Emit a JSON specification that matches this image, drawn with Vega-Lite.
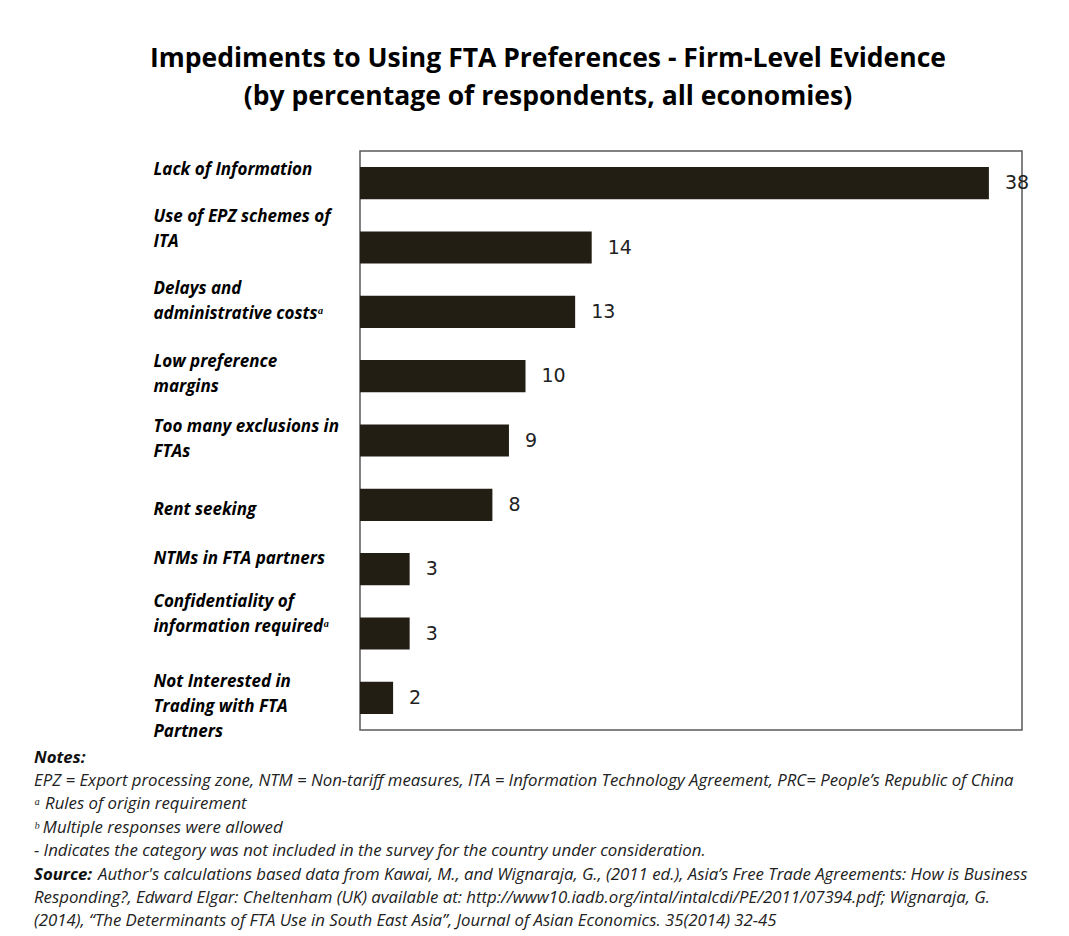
{
  "$schema": "https://vega.github.io/schema/vega-lite/v6.json",
  "padding": {"left": 34, "top": 45, "right": 5, "bottom": 5},
  "background": "white",
  "title": {
    "text": ["Impediments to Using FTA Preferences - Firm-Level Evidence", "(by percentage of respondents, all economies)"],
    "font": "Open Sans",
    "fontSize": 26.5,
    "fontWeight": "bold",
    "lineHeight": 38,
    "color": "#000000",
    "anchor": "middle",
    "offset": 40,
    "dx": 6
  },
  "spacing": 5,
  "vconcat": [
    {
      "width": 662,
      "height": 579,
      "view": {"stroke": "#595959", "strokeWidth": 1.5},
      "data": {
        "values": [
          {"label": "Lack of Information", "value": 38},
          {"label": "Use of EPZ schemes of|ITA", "value": 14},
          {"label": "Delays and|administrative costsᵃ", "value": 13},
          {"label": "Low preference|margins", "value": 10},
          {"label": "Too many exclusions in|FTAs", "value": 9},
          {"label": "Rent seeking", "value": 8},
          {"label": "NTMs in FTA partners", "value": 3},
          {"label": "Confidentiality of|information requiredᵃ", "value": 3},
          {"label": "Not Interested in|Trading with FTA|Partners", "value": 2}
        ]
      },
      "encoding": {
        "y": {
          "field": "label",
          "type": "nominal",
          "sort": ["Lack of Information", "Use of EPZ schemes of|ITA", "Delays and|administrative costsᵃ", "Low preference|margins", "Too many exclusions in|FTAs", "Rent seeking", "NTMs in FTA partners", "Confidentiality of|information requiredᵃ", "Not Interested in|Trading with FTA|Partners"],
          "scale": {"paddingInner": 0.5, "paddingOuter": 0.25},
          "axis": {
            "title": null,
            "domain": false,
            "ticks": false,
            "grid": false,
            "labelAlign": "left",
            "labelBaseline": "middle",
            "labelPadding": 207,
            "labelLimit": 0,
            "labelFont": "Open Sans",
            "labelFontSize": 17,
            "labelFontWeight": "bold",
            "labelFontStyle": "italic",
            "labelColor": "#000000",
            "labelLineHeight": 25,
            "labelExpr": "split(datum.label, '|')",
            "labelOffset": {
              "condition": [
                {"test": "datum.value === 'Lack of Information'", "value": -13},
                {"test": "datum.value === 'Use of EPZ schemes of|ITA'", "value": -31},
                {"test": "datum.value === 'Delays and|administrative costsᵃ'", "value": -23},
                {"test": "datum.value === 'Low preference|margins'", "value": -14},
                {"test": "datum.value === 'Too many exclusions in|FTAs'", "value": -14},
                {"test": "datum.value === 'Rent seeking'", "value": 5},
                {"test": "datum.value === 'NTMs in FTA partners'", "value": -10},
                {"test": "datum.value === 'Confidentiality of|information requiredᵃ'", "value": -32},
                {"test": "datum.value === 'Not Interested in|Trading with FTA|Partners'", "value": -16}
              ],
              "value": 0
            }
          }
        },
        "x": {"field": "value", "type": "quantitative", "scale": {"domain": [0, 40]}, "axis": null}
      },
      "layer": [
        {"mark": {"type": "bar", "color": "#231e13"}},
        {
          "mark": {"type": "text", "align": "left", "baseline": "middle", "dx": 16, "font": "DejaVu Sans", "fontSize": 19, "color": "#222222"},
          "encoding": {"text": {"field": "value", "type": "quantitative"}}
        }
      ]
    },
    {
      "width": 690,
      "height": 187,
      "view": {"stroke": null},
      "data": {
        "values": [
          {"line": 1, "kind": "bold", "text": "Notes:"},
          {"line": 2, "kind": "normal", "text": "EPZ = Export processing zone, NTM = Non-tariff measures, ITA = Information Technology Agreement, PRC= People’s Republic of China"},
          {"line": 3, "kind": "normal", "text": "ᵃ Rules of origin requirement"},
          {"line": 4, "kind": "normal", "text": "ᵇ Multiple responses were allowed"},
          {"line": 5, "kind": "normal", "text": "- Indicates the category was not included in the survey for the country under consideration."},
          {"line": 6, "kind": "bold", "text": "Source:"},
          {"line": 6, "kind": "cont", "text": "Author's calculations based data from Kawai, M., and Wignaraja, G., (2011 ed.), Asia’s Free Trade Agreements: How is Business"},
          {"line": 7, "kind": "normal", "text": "Responding?, Edward Elgar: Cheltenham (UK) available at: http://www10.iadb.org/intal/intalcdi/PE/2011/07394.pdf; Wignaraja, G."},
          {"line": 8, "kind": "normal", "text": "(2014), “The Determinants of FTA Use in South East Asia”, Journal of Asian Economics. 35(2014) 32-45"}
        ]
      },
      "encoding": {
        "y": {"field": "line", "type": "ordinal", "axis": null, "scale": {"paddingInner": 0, "paddingOuter": 0}},
        "x": {"value": 0},
        "text": {"field": "text", "type": "nominal"}
      },
      "layer": [
        {
          "transform": [{"filter": "datum.kind === 'normal'"}],
          "mark": {"type": "text", "align": "left", "baseline": "middle", "dx": -326, "font": "Open Sans", "fontStyle": "italic", "fontSize": 16.8, "color": "#222222"}
        },
        {
          "transform": [{"filter": "datum.kind === 'bold'"}],
          "mark": {"type": "text", "align": "left", "baseline": "middle", "dx": -326, "font": "Open Sans", "fontStyle": "italic", "fontWeight": "bold", "fontSize": 16.8, "color": "#111111"}
        },
        {
          "transform": [{"filter": "datum.kind === 'cont'"}],
          "mark": {"type": "text", "align": "left", "baseline": "middle", "dx": -262, "font": "Open Sans", "fontStyle": "italic", "fontSize": 16.8, "color": "#222222"}
        }
      ]
    }
  ]
}
